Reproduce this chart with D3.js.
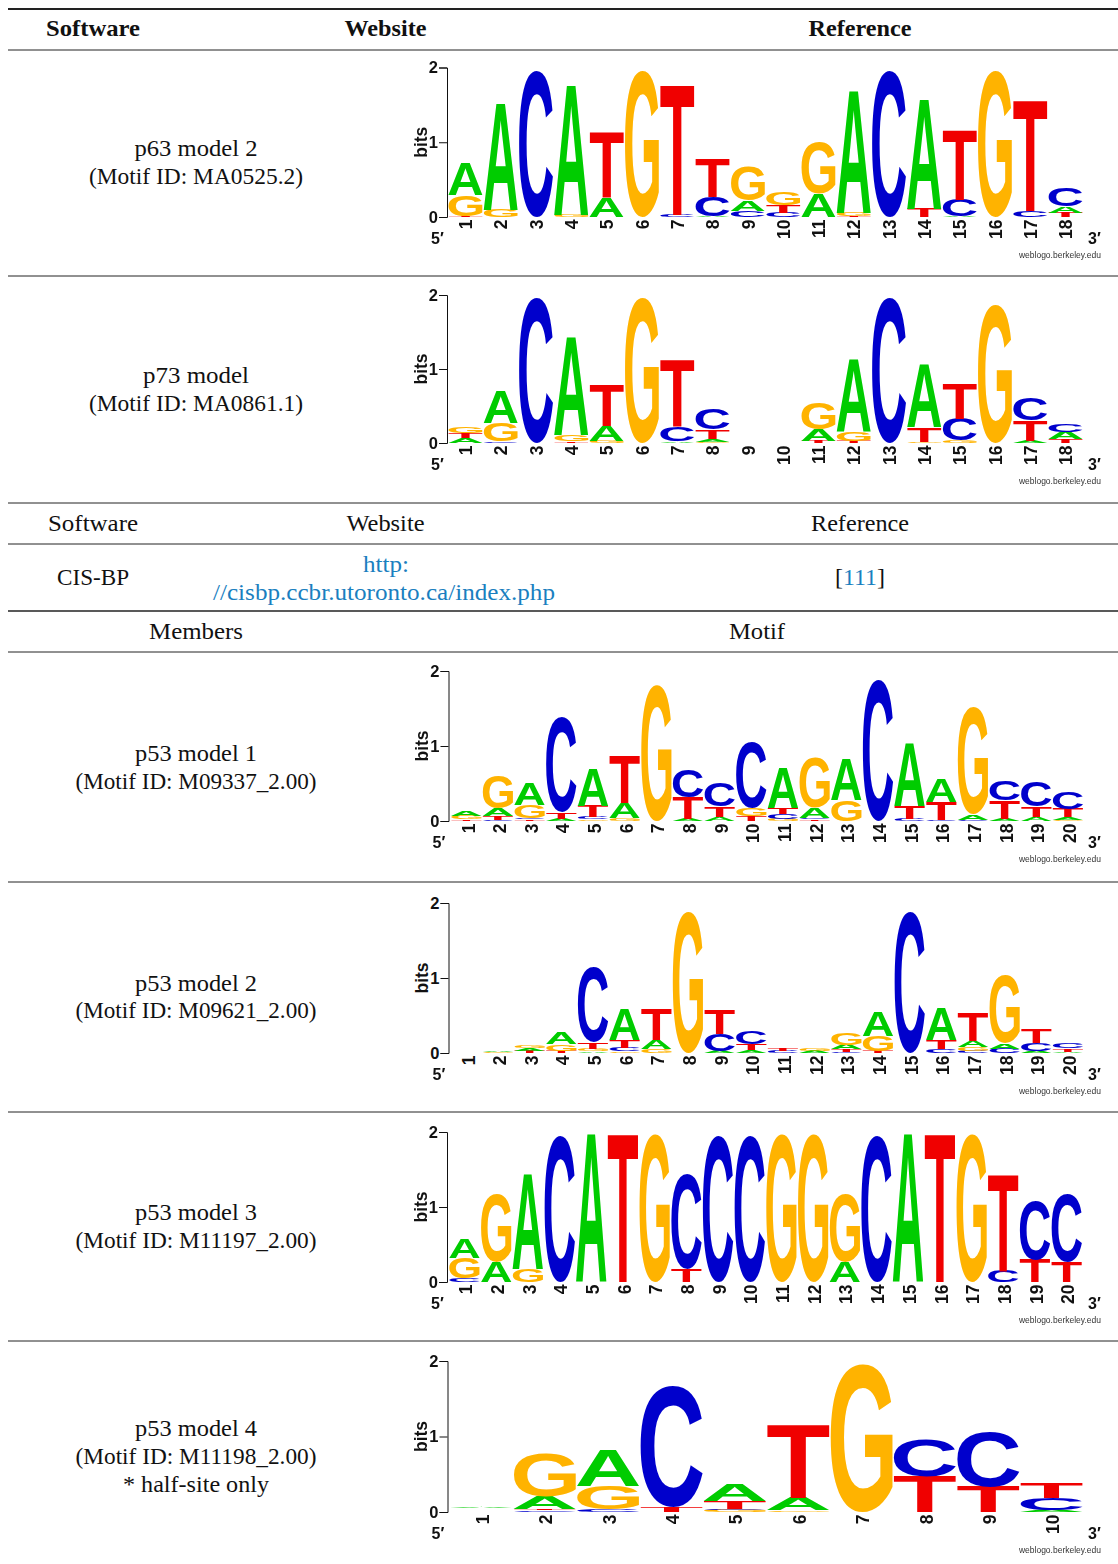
<!DOCTYPE html>
<html><head><meta charset="utf-8">
<script src="https://cdn.jsdelivr.net/npm/d3@7/dist/d3.min.js"></script>
<style>html,body{margin:0;padding:0;background:#fff}svg{display:block}
.t{font-family:"Liberation Serif",serif;fill:#111;text-anchor:middle;font-size:24px}
.b{font-weight:bold}.lnk{fill:#1a7fbf}
.ax text{font-family:"Liberation Sans",sans-serif;font-weight:bold;fill:#111}
</style></head><body><svg id="c" width="1118" height="1564"></svg>
<script>
const ruleY=[[9,1.8],[50,1],[276,1],[503,1],[544,1],[611,1.4],[652,1],[882,1],[1112,1],[1341,1]];
const headers=[["Software",93,94,90],["Website",385.5,82,78],["Reference",860,103,98]];
const subHeaders=[["Members",196,94],["Motif",757,56]];
const rowLabels=[
 [["p63 model 2",156,123],["(Motif ID: MA0525.2)",184,214]],
 [["p73 model",383,106],["(Motif ID: MA0861.1)",411,214]],
 [["p53 model 1",761,122],["(Motif ID: M09337_2.00)",789,241]],
 [["p53 model 2",991,122],["(Motif ID: M09621_2.00)",1018,241]],
 [["p53 model 3",1220,122],["(Motif ID: M11197_2.00)",1248,241]],
 [["p53 model 4",1436,122],["(Motif ID: M11198_2.00)",1464,241],["* half-site only",1492,146]]];

const p63=[
 [["T",.01],["G",.28],["A",.43]],[["G",.1],["A",1.42]],[["C",1.95]],[["G",.03],["A",1.73]],[["A",.25],["T",.88]],
 [["G",1.95]],[["C",.03],["T",1.73]],[["A",.01],["C",.26],["T",.52]],[["C",.08],["A",.14],["G",.46]],[["C",.06],["T",.1],["G",.18]],
 [["A",.31],["G",.68]],[["T",.01],["G",.05],["A",1.63]],[["C",1.95]],[["T",.11],["A",1.46]],[["A",.01],["C",.22],["T",.92]],
 [["G",1.95]],[["C",.08],["T",1.47]],[["T",.06],["A",.08],["C",.24]]];
const p73=[
 [["A",.07],["T",.07],["G",.08]],[["C",.02],["G",.25],["A",.43]],[["C",1.95]],[["T",.02],["G",.09],["A",1.31]],[["G",.03],["A",.2],["T",.55]],
 [["G",1.95]],[["A",.02],["C",.2],["T",.9]],[["G",.02],["A",.04],["T",.12],["C",.28]],[],[],
 [["T",.03],["A",.16],["G",.35]],[["T",.03],["G",.13],["A",.96]],[["C",1.95]],[["G",.02],["T",.19],["A",.85]],[["G",.03],["C",.3],["T",.47]],
 [["G",1.87]],[["A",.03],["T",.27],["C",.3]],[["T",.05],["A",.1],["C",.1]]];
const p53m1=[
 [["T",.02],["G",.05],["A",.06]],[["C",.02],["T",.05],["A",.1],["G",.43]],[["T",.02],["C",.02],["G",.18],["A",.28]],[["A",.03],["T",.09],["C",1.25]],
 [["G",.02],["C",.03],["T",.15],["A",.5]],[["G",.04],["A",.2],["T",.63]],[["G",1.8]],[["A",.03],["T",.28],["C",.36]],
 [["A",.05],["T",.14],["C",.32]],[["T",.07],["G",.1],["C",.87]],[["G",.03],["C",.06],["T",.08],["A",.52]],[["T",.02],["C",.02],["A",.14],["G",.67]],
 [["G",.28],["A",.55]],[["C",1.87]],[["C",.03],["T",.17],["A",.83]],[["C",.02],["T",.24],["A",.31]],
 [["C",.02],["A",.06],["G",1.42]],[["A",.03],["T",.24],["C",.26]],[["A",.05],["T",.14],["C",.33]],[["G",.02],["A",.03],["T",.11],["C",.23]]];
const p53m2=[
 [],[["G",.02],["A",.02]],[["T",.03],["A",.03],["G",.04]],[["T",.03],["G",.09],["A",.16]],
 [["A",.02],["G",.04],["T",.09],["C",1.0]],[["G",.02],["C",.05],["T",.1],["A",.41]],[["G",.05],["A",.12],["T",.41]],[["G",1.88]],
 [["A",.03],["C",.22],["T",.32]],[["A",.04],["T",.08],["C",.17]],[["C",.03],["T",.04]],[["A",.03],["G",.04]],
 [["C",.01],["T",.04],["A",.06],["G",.15]],[["T",.03],["G",.2],["A",.32]],[["C",1.88]],[["C",.05],["T",.12],["A",.42]],
 [["C",.03],["G",.05],["A",.08],["T",.37]],[["C",.06],["A",.07],["G",.91]],[["A",.03],["C",.1],["T",.18]],[["A",.02],["T",.04],["C",.07]]];
const p53m3=[
 [["C",.05],["G",.27],["A",.25]],[["A",.27],["G",.9]],[["G",.17],["A",1.27]],[["C",1.95]],[["A",1.97]],
 [["T",1.97]],[["G",1.95]],[["T",.17],["C",1.26]],[["C",1.95]],[["C",1.95]],
 [["G",1.95]],[["G",1.95]],[["A",.27],["G",.9]],[["C",1.95]],[["A",1.97]],
 [["T",1.97]],[["G",1.95]],[["C",.15],["T",1.28]],[["T",.3],["C",.78]],[["T",.27],["C",.9]]];
const p53m4=[
 [["",.05],["A",.012]],[["C",.02],["T",.02],["A",.16],["G",.58]],[["C",.03],["G",.31],["A",.48]],[["T",.07],["C",1.6]],[["G",.03],["C",.01],["T",.1],["A",.22]],
 [["G",.02],["A",.17],["T",.97]],[["G",1.95]],[["T",.47],["C",.49]],[["T",.33],["C",.73]],[["A",.03],["C",.16],["T",.2]]];
const logos=[p63,p73,p53m1,p53m2,p53m3,p53m4];
const logoBoxes=[ // axis x, first & last column centres, y of 0 and of 2 bits, stack shift
 {ax:447,x0:465.4,x1:1065.5,y0:217,y2:67.5,dx:0},
 {ax:447,x0:465.4,x1:1065.5,y0:443,y2:295,dx:0},
 {ax:448.5,x0:467.8,x1:1069.4,y0:821,y2:671,dx:-1.5},
 {ax:448.5,x0:467.8,x1:1069.4,y0:1053,y2:903,dx:-1.5},
 {ax:447,x0:465.5,x1:1067.6,y0:1282,y2:1132,dx:-1},
 {ax:447.5,x0:482.4,x1:1052.5,y0:1512,y2:1361,dx:-1}];
const letterColor={A:"#00cc00",C:"#0000cc",G:"#ffb300",T:"#f00000"};
const yTicks=[0,1,2];

const svg=d3.select("#c");
const defs=svg.append("defs");
defs.append("filter").attr("id","soft").attr("x","-2%").attr("y","-2%").attr("width","104%").attr("height","104%")
 .append("feGaussianBlur").attr("stdDeviation",0.45);

svg.selectAll("line.r").data(ruleY).join("line").attr("class","r").attr("x1",8).attr("x2",1118)
 .attr("y1",d=>d[0]).attr("y2",d=>d[0]).attr("stroke","#222").attr("stroke-width",d=>d[1]);

function label(x,y,s,cls,len){const t=svg.append("text").attr("class","t "+(cls||"")).attr("x",x).attr("y",y).text(s);
 if(len)t.attr("textLength",len).attr("lengthAdjust","spacingAndGlyphs");return t;}
headers.forEach(h=>label(h[1],36,h[0],"b",h[2]));
headers.forEach(h=>label(h[1],531,h[0],"",h[3]));
subHeaders.forEach(h=>label(h[1],639,h[0],"",h[2]));
label(93,585,"CIS-BP","",72);
label(386,572,"http:","lnk",46);
label(384,600,"//cisbp.ccbr.utoronto.ca/index.php","lnk",342);
const ref=label(860,585,"[");ref.append("tspan").attr("class","lnk").text("111");ref.append("tspan").text("]");
rowLabels.forEach(r=>r.forEach(l=>label(196,l[1],l[0],"",l[2])));

// exact ink-box of each glyph (scanned from a canvas, per 100px of font size)
const cv=document.createElement("canvas");cv.width=400;cv.height=400;
const ctx=cv.getContext("2d",{willReadFrequently:true});
const ink={};
"ACGT".split("").forEach(k=>{
 ctx.clearRect(0,0,400,400);ctx.font='bold 300px "Liberation Sans"';ctx.fillStyle="#000";ctx.fillText(k,50,320);
 const px=ctx.getImageData(0,0,400,400).data;let x0=400,x1=0,y0=400,y1=0;
 for(let yy=0;yy<400;yy++)for(let xx=0;xx<400;xx++)if(px[(yy*400+xx)*4+3]>127){
  if(xx<x0)x0=xx;if(xx+1>x1)x1=xx+1;if(yy<y0)y0=yy;if(yy+1>y1)y1=yy+1;}
 ink[k]={l:(50-x0)/3,r:(x1-50)/3,a:(320-y0)/3,d:(y1-320)/3};
});

logos.forEach((stacks,i)=>{
 const b=logoBoxes[i],n=stacks.length;
 const positions=d3.range(1,n+1);
 const x=d3.scalePoint().domain(positions).range([b.x0,b.x1]);
 const y=d3.scaleLinear().domain([0,2]).range([b.y0,b.y2]);
 const g=svg.append("g").attr("filter","url(#soft)");
 const w=x.step()-1.5;
 stacks.forEach((st,j)=>{
  let acc=0;
  st.forEach(([k,h])=>{
   const base=acc;acc+=h;
   if(!k)return;
   const f=ink[k],sx=w/(f.r+f.l),sy=(y(base)-y(acc))/(f.a+f.d);
   g.append("text").text(k)
    .attr("font-family","Liberation Sans").attr("font-weight","bold").attr("font-size",100)
    .attr("fill",letterColor[k])
    .attr("transform",`translate(${x(positions[j])-w/2+b.dx},${y(base)}) scale(${sx},${sy}) translate(${f.l},${-f.d})`);
  });
 });
 const ay=svg.append("g").attr("class","ax").attr("transform",`translate(${b.ax},0)`)
  .call(d3.axisLeft(y).tickValues(yTicks).tickFormat(d3.format("d")).tickSize(8).tickPadding(1));
 ay.selectAll("path,line").attr("stroke","#111").attr("stroke-width",1);
 ay.selectAll("text").attr("font-size",16.5);
 const ax=svg.append("g").attr("class","ax").attr("transform",`translate(0,${b.y0+2.5})`)
  .call(d3.axisBottom(x).tickSize(0).tickPadding(0));
 ax.select("path").remove();
 ax.selectAll("text").attr("font-size",17.5).attr("text-anchor","end").attr("dy","0")
  .attr("transform","rotate(-90) translate(0,6.2)").attr("x",0).attr("y",0);
 svg.append("text").attr("class","ax").text("bits")
  .attr("transform",`translate(${b.ax-20.5},${y(1)}) rotate(-90)`)
  .attr("text-anchor","middle").attr("font-family","Liberation Sans").attr("font-weight","bold")
  .attr("font-size",17.5).attr("fill","#111");
 const py=b.y0+27;
 svg.append("text").text("5′").attr("x",b.ax-16).attr("y",py).attr("font-family","Liberation Sans").attr("font-weight","bold").attr("font-size",16).attr("fill","#111");
 svg.append("text").text("3′").attr("x",1088).attr("y",py).attr("font-family","Liberation Sans").attr("font-weight","bold").attr("font-size",16).attr("fill","#111");
 svg.append("text").text("weblogo.berkeley.edu").attr("x",1101).attr("y",b.y0+41).attr("text-anchor","end")
  .attr("font-family","Liberation Sans").attr("font-size",8.5).attr("fill","#333");
});
</script></body></html>
